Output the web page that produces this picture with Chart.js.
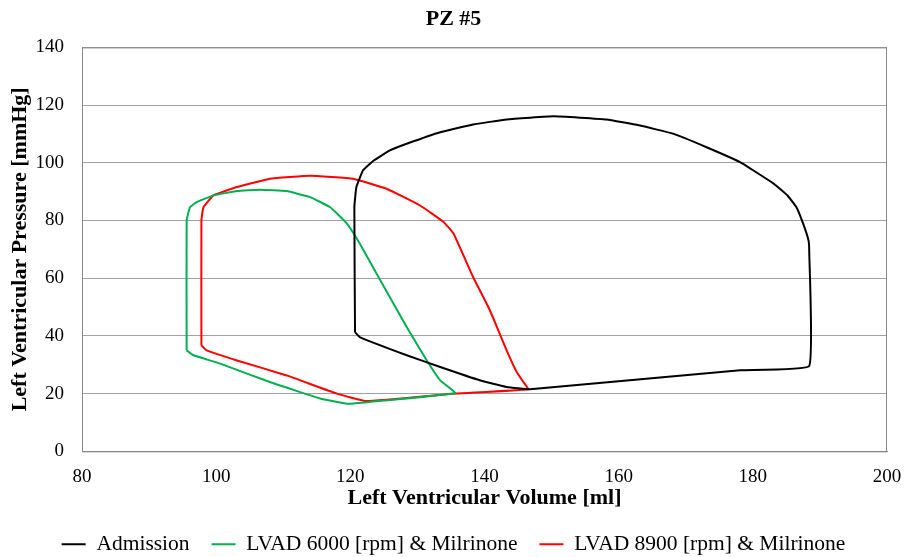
<!DOCTYPE html>
<html>
<head>
<meta charset="utf-8">
<script src="https://cdn.jsdelivr.net/npm/chart.js@4"></script>
<style>
  html, body { margin: 0; padding: 0; background: #fff; }
  #wrap { width: 907px; height: 557px; }
</style>
</head>
<body>
<div id="wrap"><canvas id="pv"></canvas></div>
<script>
// pressure-volume loops (volume ml, pressure mmHg)
const admissionVol = [120.7, 120.6, 120.9, 121.9, 123.5, 125.9, 128.4, 133.4, 138.3, 143.3, 150.3, 158.2, 163.0, 168.1, 173.1, 178.1, 183.1, 185.2, 186.5, 187.5, 188.3, 188.4, 188.4, 178.1, 146.8, 143.3, 139.3, 133.4, 128.4, 121.4, 120.7];
const admissionP   = [41.3, 84.6, 91.6, 97.4, 100.8, 104.3, 106.6, 110.6, 113.3, 115.0, 116.1, 115.0, 113.0, 110.1, 105.4, 100.2, 92.8, 88.6, 84.6, 78.9, 73.1, 70.0, 29.6, 28.1, 21.5, 22.3, 24.6, 29.2, 33.3, 39.6, 41.3];

const lvad6000Vol = [95.6, 95.6, 96.1, 97.1, 99.6, 103.1, 106.5, 110.5, 114.0, 117.0, 119.5, 121.4, 123.9, 128.4, 131.4, 133.4, 135.6, 122.9, 119.5, 115.5, 108.0, 100.6, 96.6, 95.6];
const lvad6000P   = [35.0, 80.0, 84.6, 86.4, 88.7, 90.2, 90.7, 90.2, 88.1, 84.6, 78.9, 72.0, 61.6, 43.1, 31.5, 24.6, 20.2, 17.1, 16.5, 18.3, 24.0, 30.4, 33.3, 35.0];

const lvad8900Vol = [97.8, 97.8, 98.1, 99.6, 103.1, 108.0, 114.0, 120.4, 125.4, 130.4, 133.9, 135.4, 138.3, 140.8, 143.3, 144.8, 145.8, 146.5, 135.8, 122.4, 118.0, 110.5, 103.1, 98.6, 97.8];
const lvad8900P   = [36.7, 80.0, 84.6, 88.7, 91.6, 94.5, 95.5, 94.5, 91.0, 85.2, 79.5, 75.4, 60.4, 48.9, 35.0, 27.5, 24.0, 21.5, 20.0, 17.4, 20.0, 26.3, 31.5, 35.0, 36.7];

const seriesNames = ['Admission', 'LVAD 6000 [rpm] & Milrinone', 'LVAD 8900 [rpm] & Milrinone'];
const seriesColors = ['#000000', '#00b050', '#ff0000'];

function pts(xs, ys) {
    return xs.map((x, i) => ({ x: x, y: ys[i] }));
}

const serif = 'Liberation Serif, "Times New Roman", serif';

new Chart(document.getElementById('pv'), {
    type: 'scatter',
    data: {
        datasets: [
            { label: seriesNames[0], data: pts(admissionVol, admissionP) },
            { label: seriesNames[1], data: pts(lvad6000Vol, lvad6000P) },
            { label: seriesNames[2], data: pts(lvad8900Vol, lvad8900P) }
        ].map((d, i) => Object.assign(d, {
            showLine: true,
            borderColor: seriesColors[i],
            backgroundColor: seriesColors[i],
            borderWidth: 2,
            pointRadius: 0,
            tension: 0.1
        }))
    },
    options: {
        responsive: true,
        maintainAspectRatio: false,
        animation: false,
        layout: { padding: { left: 0, right: 0, top: 0, bottom: -8 } },
        plugins: {
            title: {
                display: true,
                text: 'PZ #5',
                color: '#000',
                font: { family: serif, size: 22, weight: 'bold' },
                padding: { top: 6, bottom: 15 }
            },
            legend: {
                position: 'bottom',
                labels: {
                    color: '#000',
                    font: { family: serif, size: 21.5 },
                    usePointStyle: true,
                    pointStyle: 'line',
                    pointStyleWidth: 24,
                    boxHeight: 2,
                    padding: 22
                }
            },
            tooltip: { enabled: false }
        },
        scales: {
            x: {
                type: 'linear',
                min: 80,
                max: 200,
                ticks: { stepSize: 20, color: '#000', font: { family: serif, size: 19 }, padding: 14 },
                grid: { display: false, drawTicks: false },
                border: { color: '#888', width: 1 },
                title: {
                    display: true,
                    text: 'Left Ventricular Volume [ml]',
                    color: '#000',
                    font: { family: serif, size: 22, weight: 'bold' },
                    padding: { top: -17, bottom: 0 }
                },
                afterFit: (s) => { s.paddingRight = 20; }
            },
            y: {
                min: 0,
                max: 140,
                ticks: { stepSize: 20, color: '#000', font: { family: serif, size: 19 }, padding: 18 },
                grid: { color: '#a0a0a0', lineWidth: 1, drawTicks: false },
                border: { color: '#888', width: 1 },
                title: {
                    display: true,
                    text: 'Left Ventricular Pressure [mmHg]',
                    color: '#000',
                    font: { family: serif, size: 22, weight: 'bold' },
                    padding: { top: 7, bottom: 0 }
                },
                afterFit: (s) => { s.width = 82; }
            }
        }
    },
    plugins: [{
        // right border of the plot box
        id: 'frame',
        afterDraw(chart) {
            const a = chart.chartArea, c = chart.ctx;
            c.save();
            c.strokeStyle = '#888';
            c.lineWidth = 1;
            c.strokeRect(a.left + 0.5, a.top + 0.5, a.right - a.left - 1, a.bottom - a.top);
            c.restore();
        }
    }]
});
</script>
</body>
</html>
